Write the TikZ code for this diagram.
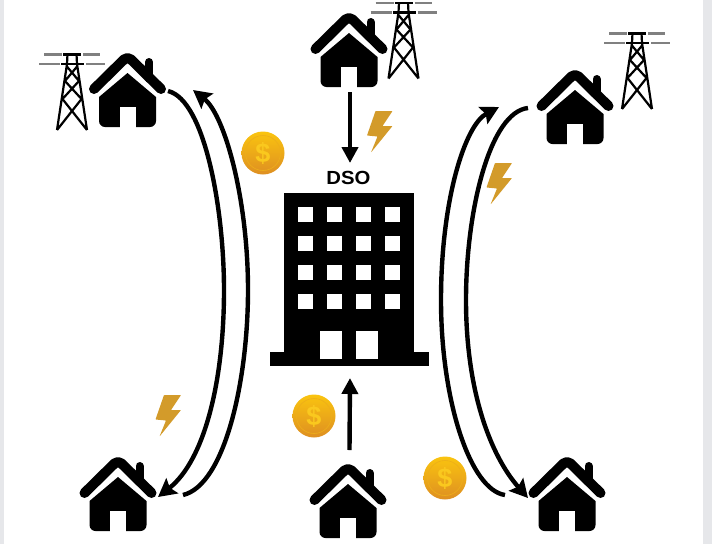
\documentclass[tikz,border=0pt]{standalone}
\usepackage{fontspec}
\setmainfont{Liberation Sans}
\usetikzlibrary{arrows.meta}
\definecolor{sidegray}{HTML}{E6E7EA}
\definecolor{boltgold}{HTML}{D39B2A}
\definecolor{cointop}{HTML}{FAC40F}
\definecolor{coinbot}{HTML}{DE8F22}
\definecolor{coinring}{HTML}{EDAE1A}
\definecolor{dollargold}{HTML}{FAC81E}
\definecolor{wiregray}{HTML}{808080}
\tikzset{
  x=1pt,y=-1pt,
  flow/.style={line width=4.4pt,-{Stealth[length=18pt,width=19pt,inset=3pt]}},
  straightflow/.style={line width=4.4pt,-{Triangle[length=16pt,width=16pt]}},
  window/.style={fill=white,draw=none},
  house/.pic={
    \fill[black] (0,18) -- (28.5,42) [rounded corners=6pt] -- (28.5,72) -- (-28.5,72) [sharp corners] -- (-28.5,42) -- cycle;
    \fill[white] (-8,52) rectangle (8,73);
    \draw[black,line width=10pt,line cap=round,rounded corners=5pt,line join=round] (-33.5,34) -- (0,1) -- (33.5,34);
    \draw[black,line width=8pt,line cap=round] (21.5,7) -- (21.5,24);
  },
  tower/.pic={
    \draw[wiregray,line width=2.6pt] (-28,0.5) -- (-10,0.5) (11,0.5) -- (28,0.5) (-33,10) -- (-12,10) (14,10) -- (33,10);
    \draw[black,line width=2.6pt] (-9,0.5) -- (9,0.5) (-11,10) -- (12,10);
    \draw[black,line width=2.2pt,line join=miter]
      (-4.5,0) -- (-5,10) -- (-15,76) (4.5,0) -- (5,10) -- (15,76)
      (-5.5,12) -- (7,27) (5.5,12) -- (-7,27)
      (-7,27) -- (9.5,45) (7,27) -- (-9.5,45)
      (-9.5,45) -- (15,76) (9.5,45) -- (-15,76);
  },
  bolt/.pic={
    \fill[boltgold,rounded corners=0.6pt] (25,0) -- (15,15) -- (25,15) -- (3.5,41.5) -- (10,25.5) -- (-0.5,24.5) -- (8,0) -- cycle;
  },
  coin/.pic={
    \shade[top color=cointop,bottom color=coinbot] (0,0) circle[radius=21.5];
    \draw[coinring,line width=0.6pt] (0,0) circle[radius=17.5];
    \node[text=dollargold,font=\bfseries\fontsize{27}{27}\selectfont,inner sep=0pt] at (0,0) {\$};
  },
}
\begin{document}
\begin{tikzpicture}
\useasboundingbox (0,0) rectangle (712,544);
\fill[sidegray] (0,0) rectangle (712,544);
\fill[white] (4,0) rectangle (703,544);

% building
\fill[black] (284,193) rectangle (414,353);
\fill[black] (270,352) rectangle (429,366);
\foreach \wx in {298.3,327.3,356.3,385.2}
  \foreach \wy in {207.3,236.3,265.3,294.3}
    \fill[window] (\wx,\wy) rectangle +(15,15);
\fill[window] (320,331) rectangle (342,359);
\fill[window] (356.3,331) rectangle (378.3,359);
\node[font=\bfseries\fontsize{19}{19}\selectfont,inner sep=0pt,xscale=1.07] (dso) at (348.5,178) {DSO};

% houses
\pic (h1) at (127.5,55) {house};
\pic (h2) at (349,15) {house};
\pic (h3) at (575,72) {house};
\pic (h4) at (118,459) {house};
\pic (h5) at (348,466) {house};
\pic (h6) at (567,459) {house};

% towers
\pic (t1) at (72,54) {tower};
\pic (t2) at (403.5,2.5) {tower};
\pic (t3) at (637,33) {tower};

% bolts
\pic (b1) at (367.5,111) {bolt};
\pic (b2) at (487,163) {bolt};
\pic (b3) at (156,395) {bolt};

% coins
\pic (c1) at (263,153) {coin};
\pic (c2) at (314,416) {coin};
\pic (c3) at (445,478) {coin};

% connector ends
\coordinate (a0) at (168,91);
\coordinate (am) at (224,290);
\coordinate (a1) at (158,497);
\coordinate (b0) at (183,495);
\coordinate (bm) at (248,290);
\coordinate (b9) at (193,90);
\coordinate (c0) at (505,495);
\coordinate (cm) at (441,300);
\coordinate (c9) at (499,107);
\coordinate (d0) at (528,108);
\coordinate (dm) at (466,300);
\coordinate (d9) at (528,498);
\coordinate (s0) at (350,92);
\coordinate (s1) at (350,163);
\coordinate (u0) at (349.5,450);
\coordinate (u1) at (350,378);

\draw[flow] (a0) .. controls (205,100) and (224,210) .. (am) .. controls (224,380) and (205,460) .. (a1);
\draw[flow] (b0) .. controls (225,485) and (248,380) .. (bm) .. controls (248,200) and (225,115) .. (b9);
\draw[flow] (c0) .. controls (470,490) and (441,400) .. (cm) .. controls (441,200) and (465,125) .. (c9);
\draw[flow] (d0) .. controls (490,112) and (466,210) .. (dm) .. controls (466,390) and (490,455) .. (d9);
\draw[straightflow] (s0) -- (s1);
\draw[straightflow] (u0) -- (u1);
\end{tikzpicture}
\end{document}
